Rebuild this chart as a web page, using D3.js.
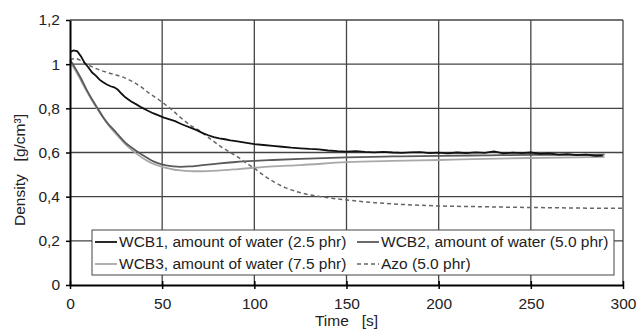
<!DOCTYPE html>
<html>
<head>
<meta charset="utf-8">
<script src="https://cdnjs.cloudflare.com/ajax/libs/d3/7.8.5/d3.min.js"></script>
<style>
  body { margin: 0; background: #fff; }
  svg { font-family: Arial, "Liberation Sans", sans-serif; }
  .grid line { stroke: #444; stroke-width: 1.3; }
</style>
</head>
<body>
<svg id="chart" width="636" height="330"></svg>
<script>
// Time [s] and density [g/cm3] per series
const wcb1Time = [0, 2, 4, 6, 8, 10, 12, 14, 16, 18, 20, 22, 24, 26, 28, 30, 33, 36, 39, 42, 45, 48, 51, 54, 57, 60, 63, 66, 69, 72, 75, 78, 81, 84, 87, 90, 95, 100, 105, 110, 115, 120, 125, 130, 135, 140, 145, 150, 155, 160, 165, 170, 175, 180, 185, 190, 195, 200, 205, 210, 215, 220, 225, 230, 235, 240, 245, 250, 255, 260, 265, 270, 275, 280, 285, 289];
const wcb1Density = [1.055, 1.062, 1.058, 1.035, 1.005, 0.985, 0.962, 0.948, 0.93, 0.918, 0.908, 0.9, 0.895, 0.884, 0.866, 0.85, 0.832, 0.818, 0.803, 0.79, 0.778, 0.768, 0.758, 0.75, 0.742, 0.73, 0.72, 0.71, 0.7, 0.688, 0.678, 0.67, 0.664, 0.66, 0.655, 0.652, 0.645, 0.638, 0.634, 0.63, 0.626, 0.622, 0.619, 0.616, 0.614, 0.609, 0.606, 0.604, 0.606, 0.603, 0.601, 0.603, 0.6, 0.598, 0.601, 0.602, 0.597, 0.599, 0.596, 0.6, 0.597, 0.601, 0.598, 0.605, 0.596, 0.599, 0.597, 0.6, 0.594, 0.596, 0.59, 0.593, 0.588, 0.59, 0.585, 0.586];

const wcb2Time = [0, 3, 6, 9, 12, 15, 18, 21, 24, 27, 30, 33, 36, 40, 44, 48, 52, 56, 60, 65, 70, 80, 90, 100, 110, 125, 150, 175, 200, 225, 250, 275, 290];
const wcb2Density = [1.02, 0.98, 0.935, 0.885, 0.84, 0.8, 0.76, 0.727, 0.7, 0.672, 0.645, 0.625, 0.607, 0.585, 0.565, 0.551, 0.542, 0.537, 0.535, 0.537, 0.541, 0.55, 0.557, 0.562, 0.566, 0.571, 0.578, 0.582, 0.585, 0.587, 0.589, 0.589, 0.59];

const wcb3Time = [0, 3, 6, 9, 12, 15, 18, 21, 24, 27, 30, 33, 36, 40, 44, 48, 52, 56, 60, 65, 70, 75, 80, 90, 100, 110, 125, 150, 175, 200, 225, 250, 275, 290];
const wcb3Density = [1.01, 0.97, 0.925, 0.878, 0.835, 0.795, 0.757, 0.722, 0.693, 0.665, 0.638, 0.615, 0.595, 0.572, 0.553, 0.54, 0.53, 0.523, 0.519, 0.516, 0.515, 0.516, 0.518, 0.524, 0.531, 0.537, 0.543, 0.556, 0.562, 0.566, 0.571, 0.575, 0.578, 0.58];

const azoTime = [0, 3, 6, 9, 12, 16, 20, 25, 30, 34, 38, 43, 48, 52, 56, 60, 65, 70, 74, 78, 82, 86, 90, 95, 100, 105, 110, 117, 123, 130, 136, 143, 150, 165, 180, 200, 220, 240, 260, 280, 300];
const azoDensity = [1.02, 1.025, 1.015, 1.0, 0.988, 0.974, 0.963, 0.951, 0.937, 0.921, 0.9, 0.868, 0.84, 0.815, 0.788, 0.758, 0.725, 0.7, 0.675, 0.65, 0.626, 0.605, 0.585, 0.556, 0.528, 0.497, 0.47, 0.44, 0.423, 0.408, 0.4, 0.392, 0.385, 0.373, 0.365, 0.358, 0.355, 0.352, 0.35, 0.348, 0.347];

const xTicks = [0, 50, 100, 150, 200, 250, 300];
const yTicks = [0, 0.2, 0.4, 0.6, 0.8, 1, 1.2];
const seriesNames = [
    "WCB1, amount of water (2.5 phr)",
    "WCB2, amount of water (5.0 phr)",
    "WCB3, amount of water (7.5 phr)",
    "Azo (5.0 phr)"
];

const svg = d3.select("#chart");
const margin = { top: 20, right: 13, bottom: 45, left: 70 };
const width = 636, height = 330;
const fontSize = 15.5;

const x = d3.scaleLinear().domain([0, 300]).range([margin.left, width - margin.right]);
const y = d3.scaleLinear().domain([0, 1.2]).range([height - margin.bottom, margin.top]);

const fmt = d => String(d).replace(".", ",");

// Grid
const grid = svg.append("g").attr("class", "grid");
grid.selectAll(".gx").data(xTicks.slice(1)).enter().append("line")
    .attr("x1", d => x(d)).attr("x2", d => x(d))
    .attr("y1", y(0)).attr("y2", y(1.2));
grid.selectAll(".gy").data(yTicks.slice(1)).enter().append("line")
    .attr("x1", x(0)).attr("x2", x(300))
    .attr("y1", d => y(d)).attr("y2", d => y(d));

// Series
const series = [
    { t: wcb1Time, v: wcb1Density, color: "#111", dash: null, w: 1.8, curve: d3.curveLinear },
    { t: wcb2Time, v: wcb2Density, color: "#5a5a5a", dash: null, w: 1.8, curve: d3.curveMonotoneX },
    { t: wcb3Time, v: wcb3Density, color: "#a8a8a8", dash: null, w: 1.8, curve: d3.curveMonotoneX },
    { t: azoTime, v: azoDensity, color: "#666", dash: "4,3", w: 1.5, curve: d3.curveMonotoneX }
];

// draw order: light ones under dark ones
[2, 1, 3, 0].forEach(i => {
    const s = series[i];
    const pts = s.t.map((t, k) => [t, s.v[k]]);
    const line = d3.line().x(d => x(d[0])).y(d => y(d[1])).curve(s.curve);
    svg.append("path")
        .datum(pts)
        .attr("fill", "none")
        .attr("stroke", s.color)
        .attr("stroke-width", s.w)
        .attr("stroke-dasharray", s.dash)
        .attr("d", line);
});

// Axes
const xAxis = svg.append("g")
    .attr("transform", `translate(0,${y(0)})`)
    .call(d3.axisBottom(x).tickValues(xTicks).tickSize(4).tickSizeOuter(0).tickFormat(fmt));
xAxis.selectAll(".tick line").attr("y1", -4).attr("stroke", "#000").attr("stroke-width", 1.5);
xAxis.select(".domain").attr("stroke", "#000").attr("stroke-width", 2);
xAxis.selectAll("text").attr("font-size", fontSize).attr("fill", "#222").attr("y", 9).attr("dy", "0.95em");

const yAxis = svg.append("g")
    .attr("transform", `translate(${x(0)},0)`)
    .call(d3.axisLeft(y).tickValues(yTicks).tickSize(4).tickSizeOuter(0).tickFormat(fmt));
yAxis.selectAll(".tick line").attr("stroke", "#000").attr("stroke-width", 1.5);
yAxis.select(".domain").attr("stroke", "#000").attr("stroke-width", 2);
yAxis.selectAll("text").attr("font-size", fontSize).attr("fill", "#222").attr("x", -10);

// Axis titles
svg.append("text")
    .attr("x", x(150)).attr("y", 326)
    .attr("text-anchor", "middle")
    .attr("font-size", fontSize).attr("fill", "#222")
    .attr("xml:space", "preserve")
    .text("Time   [s]");

svg.append("text")
    .attr("transform", `translate(25,170) rotate(-90)`)
    .attr("text-anchor", "middle")
    .attr("font-size", fontSize).attr("fill", "#222")
    .attr("xml:space", "preserve")
    .text("Density   [g/cm³]");

// Legend
const legend = svg.append("g");
legend.append("rect")
    .attr("x", 92).attr("y", 230).attr("width", 522).attr("height", 45)
    .attr("fill", "#fff").attr("stroke", "#444").attr("stroke-width", 1);

const legendPos = [[95, 242], [357, 242], [95, 264], [357, 264]];
series.forEach((s, i) => {
    const [lx, ly] = legendPos[i];
    legend.append("line")
        .attr("x1", lx).attr("x2", lx + 22)
        .attr("y1", ly).attr("y2", ly)
        .attr("stroke", s.color).attr("stroke-width", s.w)
        .attr("stroke-dasharray", s.dash);
    legend.append("text")
        .attr("x", lx + 24).attr("y", ly)
        .attr("dy", "0.35em")
        .attr("font-size", fontSize).attr("fill", "#222")
        .text(seriesNames[i]);
});
</script>
</body>
</html>
